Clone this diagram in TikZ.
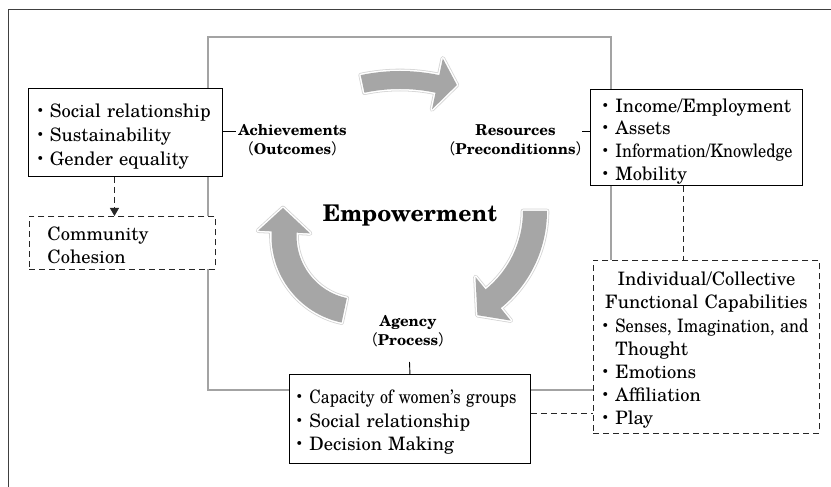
\documentclass[tikz,border=0pt]{standalone}
\usepackage{fontspec}
\usepackage{graphicx}
\setmainfont{TeX Gyre Schola}
\newfontfamily\cjk{Noto Sans CJK JP}
\usetikzlibrary{calc,arrows.meta}
\newcommand\bul{{\mdseries\cjk ・}}
\newcommand\lp{{\mdseries\cjk （}}
\newcommand\rp{{\mdseries\cjk ）}}
\newcommand\fitw[2]{\resizebox{#1}{\height}{#2}}
\newcommand\up[1]{\rule{0pt}{#1}}
\definecolor{arrowgray}{HTML}{A6A6A6}
\definecolor{framegray}{HTML}{A3A3A3}
% circular arrow: cx, cy, R, tail angle, head-base angle, tip angle, half body, half head, tip radius
\newcommand\cycarrow[9]{%
  \fill[arrowgray,
        preaction={draw=black!17,line width=4.6pt,line join=round},
        preaction={draw=white,line width=3pt,line join=round}]
   ($(#1,#2)+(#4:#3+#7)$) arc[start angle=#4,end angle=#5,radius=#3+#7]
   -- ($(#1,#2)+(#5:#3+#8)$) -- ($(#1,#2)+(#6:#9)$) -- ($(#1,#2)+(#5:#3-#8)$)
   -- ($(#1,#2)+(#5:#3-#7)$) arc[start angle=#5,end angle=#4,radius=#3-#7] -- cycle;}
\tikzset{
  box/.style={draw=black, line width=0.9pt, fill=white, inner ysep=0pt, anchor=north west, align=left},
  dashbox/.style={box, draw=black!85, dash pattern=on 6pt off 4pt},
  dashline/.style={draw=black!85, line width=0.9pt, dash pattern=on 6pt off 4pt},
  lab/.style={font=\bfseries\fontsize{15}{19}\selectfont, align=center, inner sep=1pt},
  tick/.style={draw=black, line width=0.9pt},
}
\begin{document}
\begin{tikzpicture}[x=1pt,y=1pt]
\useasboundingbox (0,0) rectangle (831,487);
% outer frame
\draw[black!75, line width=0.9pt] (8,0) -- (8,478) -- (831,478);
% gray square
\coordinate (g1) at (208,450);
\coordinate (g2) at (611,97);
\draw[framegray, line width=1.4pt] (g1) rectangle (g2);
% cycle arrows
\cycarrow{400}{227}{180}{102}{78}{72}{9}{26}{184}
\cycarrow{422}{276}{113}{0}{-51}{-62}{12}{28}{118}
\cycarrow{360}{251}{76}{258}{177}{160}{12.5}{26}{82}
% center title
\node[font=\bfseries\fontsize{23}{28}\selectfont] (emp) at (410,271) {Empowerment};
% boxes
\node[box, inner xsep=3pt, text width=188pt, minimum height=88pt, font=\fontsize{18.5}{24}\selectfont] (ach) at (28,399)
  {\up{22pt}\bul Social relationship\\\bul Sustainability\\\bul Gender equality};
\node[dashbox, inner xsep=18pt, text width=150pt, minimum height=53pt, font=\fontsize{18.5}{23}\selectfont] (comm) at (29,271)
  {\up{17.5pt}Community\\Cohesion};
\node[box, inner xsep=6.5pt, text width=199pt, minimum height=96pt, font=\fontsize{18.5}{22.7}\selectfont] (res) at (590,398)
  {\up{21.3pt}\bul Income/Employment\\\bul Assets\\\bul \fitw{177pt}{Information/Knowledge}\\\bul Mobility};
\node[box, inner xsep=1.5pt, text width=238pt, minimum height=89pt, font=\fontsize{18.5}{23.5}\selectfont] (ag) at (289,113)
  {\up{20.8pt}\bul \fitw{207pt}{Capacity of women's groups}\\\bul Social relationship\\\bul Decision Making};
\node[dashbox, inner xsep=3.5pt, text width=219pt, minimum height=173pt, font=\fontsize{18.5}{23}\selectfont] (cap) at (593,227)
  {{\centering\up{20pt}Individual/Collective\\Functional Capabilities\par}\vspace{1.5pt}
   \bul \fitw{193pt}{Senses, Imagination, and}\\\hspace*{18.5pt}Thought\\\bul Emotions\\\bul Affiliation\\\bul Play};
% labels
\node[lab] (achlab) at (292.5,346.5) {Achievements\\\lp Outcomes\rp};
\node[lab] (reslab) at (515.5,346.5) {Resources\\\lp Preconditionns\rp};
\node[lab] (aglab) at (408,155.5) {Agency\\\lp Process\rp};
% label ticks
\coordinate (achtick) at (236,355.5);
\coordinate (restick) at (582,356);
\coordinate (agtick) at (409.5,125);
\draw[tick] (achtick -| ach.east) -- (achtick);
\draw[tick] (restick) -- (restick -| res.west);
\draw[tick] (ag.north) -- (agtick);
% dashed connectors
\draw[dashline, -{Triangle[length=8pt,width=9pt]}] ([xshift=-11pt]ach.south) -- ([xshift=-11pt]ach.south |- comm.north);
\draw[dashline] ([xshift=-13pt]res.south) -- ([xshift=-13pt]res.south |- cap.north);
\draw[dashline] ([yshift=5.5pt]ag.east) -- ([yshift=5.5pt]ag.east -| cap.west);
\end{tikzpicture}
\end{document}
